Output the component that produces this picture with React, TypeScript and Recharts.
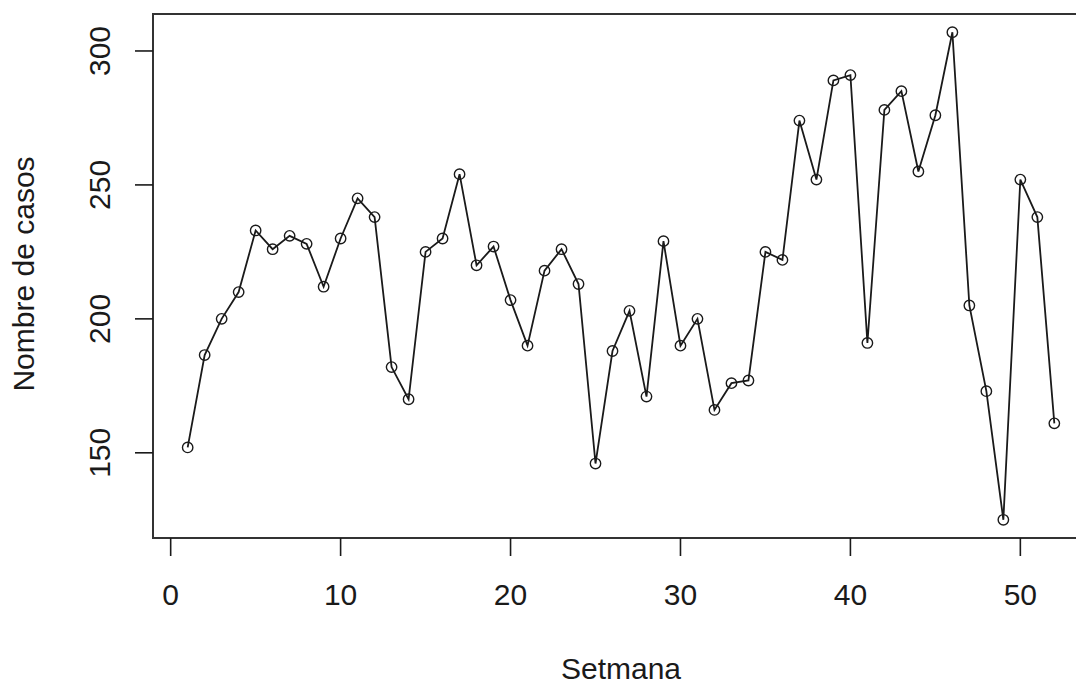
import React from 'react';
import { LineChart, Line, XAxis, YAxis, ReferenceArea } from 'recharts';

const weeks: number[] = Array.from({ length: 52 }, (_, i) => i + 1);
const cases: number[] = [
  152, 186.5, 200, 210, 233, 226, 231, 228, 212, 230,
  245, 238, 182, 170, 225, 230, 254, 220, 227, 207,
  190, 218, 226, 213, 146, 188, 203, 171, 229, 190,
  200, 166, 176, 177, 225, 222, 274, 252, 289, 291,
  191, 278, 285, 255, 276, 307, 205, 173, 125, 252,
  238, 161,
];
const xTicks: number[] = [0, 10, 20, 30, 40, 50];
const yTicks: number[] = [150, 200, 250, 300];
const xDomain: [number, number] = [-1.04, 54.04];
const yDomain: [number, number] = [118.2, 313.8];
const xLabel = 'Setmana';
const yLabel = 'Nombre de casos';

const data = weeks.map((w, i) => ({ week: w, cases: cases[i] }));

const FONT = '"Liberation Sans", Arial, sans-serif';
const INK = '#1a1a1a';

const YTick = (props: any) => {
  const { x, y, payload } = props;
  const bx = x - 25;
  return (
    <text
      x={bx}
      y={y}
      transform={`rotate(-90 ${bx} ${y})`}
      textAnchor="middle"
      fontFamily={FONT}
      fontSize={30}
      fill={INK}
    >
      {payload.value}
    </text>
  );
};

const XLabel = (props: any) => {
  const vb = props.viewBox;
  return (
    <text
      x={vb.x + vb.width / 2}
      y={679}
      textAnchor="middle"
      fontFamily={FONT}
      fontSize={30}
      fill={INK}
    >
      {xLabel}
    </text>
  );
};

const YLabel = (props: any) => {
  const vb = props.viewBox;
  const cy = vb.y + vb.height / 2 - 2;
  const bx = 34;
  return (
    <text
      x={bx}
      y={cy}
      transform={`rotate(-90 ${bx} ${cy})`}
      textAnchor="middle"
      fontFamily={FONT}
      fontSize={30}
      fill={INK}
    >
      {yLabel}
    </text>
  );
};

export default function App() {
  return (
    <div
      style={{
        position: 'fixed',
        left: 0,
        top: 0,
        width: 1076,
        height: 684,
        overflow: 'hidden',
        background: '#fff',
      }}
    >
      <LineChart
        width={1089}
        height={684}
        data={data}
        margin={{ top: 14, right: 0, bottom: 0, left: 0 }}
      >
        <XAxis
          dataKey="week"
          type="number"
          domain={xDomain}
          ticks={xTicks}
          allowDataOverflow
          axisLine={false}
          tickLine={{ stroke: INK, strokeWidth: 1.6 }}
          tickSize={18}
          tickMargin={28}
          height={146}
          tick={{ fontFamily: FONT, fontSize: 30, fill: INK }}
          label={<XLabel />}
          interval={0}
        />
        <YAxis
          type="number"
          domain={yDomain}
          ticks={yTicks}
          allowDataOverflow
          axisLine={false}
          tickLine={{ stroke: INK, strokeWidth: 1.6 }}
          tickSize={18}
          tickMargin={0}
          width={153}
          tick={<YTick />}
          label={<YLabel />}
          interval={0}
        />
        <ReferenceArea
          x1={xDomain[0]}
          x2={xDomain[1]}
          y1={yDomain[0]}
          y2={yDomain[1]}
          fill="none"
          stroke="#333"
          strokeWidth={2}
          ifOverflow="visible"
        />
        <Line
          type="linear"
          dataKey="cases"
          stroke={INK}
          strokeWidth={1.8}
          dot={{ r: 5.2, fill: 'none', stroke: INK, strokeWidth: 1.4 }}
          isAnimationActive={false}
        />
      </LineChart>
    </div>
  );
}
